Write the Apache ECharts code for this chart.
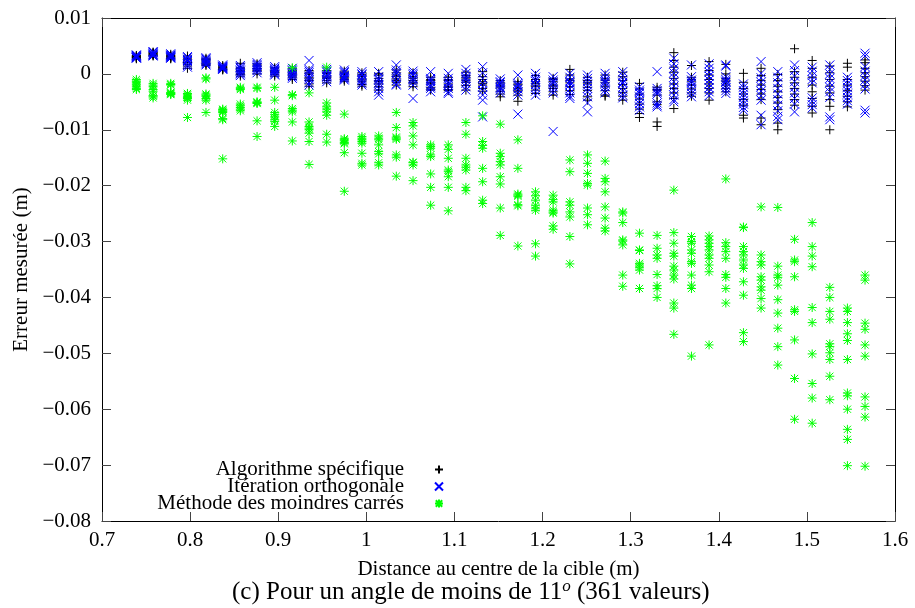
<!DOCTYPE html>
<html>
<head>
<meta charset="utf-8">
<script src="https://cdn.jsdelivr.net/npm/echarts@6/dist/echarts.min.js"></script>
<style>
  html, body { margin: 0; padding: 0; background: #fff; }
  #chart { width: 915px; height: 608px; }
</style>
</head>
<body>
<div id="chart"></div>
<script>
// Distance au centre de la cible (m) : one value per group of measurements
const distances = [0.739, 0.758, 0.778, 0.797, 0.818, 0.837, 0.857, 0.876, 0.896, 0.916,
  0.935, 0.955, 0.975, 0.995, 1.014, 1.034, 1.053, 1.073, 1.093, 1.113,
  1.132, 1.152, 1.172, 1.192, 1.212, 1.231, 1.251, 1.271, 1.291, 1.310,
  1.330, 1.349, 1.369, 1.389, 1.408, 1.428, 1.448, 1.467, 1.486, 1.506,
  1.526, 1.546, 1.566];

// Erreur mesurée, in millimetres, one list per distance
const errAlgoSpecifique = [
  [3.2, 3.0, 2.8, 3.3, 2.9, 3.1, 3.0, 2.7],
  [3.9, 3.5, 3.2, 3.7, 3.4, 3.3, 3.8, 3.6],
  [3.5, 3.1, 2.8, 3.3, 2.9, 2.7, 3.2, 3.0],
  [3.2, 2.7, 2.1, 1.7, 1.0, 2.5, 2.0, 1.4],
  [2.8, 2.5, 2.1, 1.7, 1.5, 2.3, 1.9, 2.6],
  [1.5, 1.2, 0.9, 0.7, 1.3, 1.0, 0.8, 1.1],
  [1.9, 1.0, 0.4, -0.1, -0.4, 1.1, 0.6, 0.1],
  [1.8, 1.4, 0.9, 0.5, 0.0, 1.6, 1.0, 0.6],
  [1.1, 0.6, 0.2, -0.4, 0.9, 0.4, -0.1, 0.3],
  [0.9, 0.4, -0.2, -0.7, -1.0, 0.6, 0.1, -0.4],
  [0.6, 0.0, -0.6, -1.2, -1.8, -2.2, 0.3, -0.9],
  [0.6, 0.1, -0.4, -0.8, -1.2, -1.6, 0.3, -0.6],
  [0.5, 0.0, -0.5, -0.9, -1.3, 0.2, -0.7, -1.0],
  [0.2, -0.4, -0.9, -1.4, -1.9, -2.2, -0.1, -1.1],
  [0.1, -0.8, -1.4, -2.3, -2.9, -1.8, -0.2, -1.2],
  [0.7, -0.2, -0.9, -1.5, -2.0, 0.2, -0.5, -1.2],
  [0.2, -0.5, -1.2, -1.8, -2.3, -0.8, -1.5, 0.0],
  [-0.6, -1.2, -1.8, -2.4, -2.9, -1.5, -2.7, -1.0],
  [-0.6, -1.2, -1.8, -2.4, -3.0, -1.0, -2.2, -2.8],
  [0.3, -0.3, -0.9, -1.5, -2.1, -2.9, -1.2, -0.6],
  [0.4, -0.5, -1.4, -2.0, -2.6, -3.1, -1.0, -1.7],
  [-1.2, -1.8, -2.5, -3.1, -4.1, -1.5, -2.2, -3.6],
  [-1.4, -2.0, -2.6, -3.2, -3.8, -4.9, -1.8, -2.9],
  [-0.3, -1.0, -1.7, -2.3, -2.9, -3.5, -1.4, -2.0],
  [-0.8, -1.4, -2.0, -2.6, -3.2, -3.8, -1.0, -2.2],
  [0.8, -0.2, -0.9, -1.6, -2.3, -3.0, -3.7, -1.2],
  [-0.6, -1.2, -1.8, -2.4, -3.0, -4.1, -4.7, -1.5],
  [-0.2, -0.9, -1.6, -2.3, -3.0, -3.8, -4.0, -1.2],
  [0.3, -0.5, -1.2, -1.9, -2.6, -3.3, -4.0, -4.7],
  [-1.7, -2.7, -3.6, -4.5, -5.4, -6.3, -7.1, -7.8],
  [-2.4, -3.0, -3.8, -5.0, -5.5, -8.6, -9.4, -2.8],
  [3.8, 2.4, 1.2, 0.3, -0.8, -1.8, -2.6, -3.4, -4.4, -6.2],
  [1.5, -0.6, -1.3, -2.0, -2.7, -3.4, -4.0, -1.0],
  [2.2, 0.6, -0.2, -1.0, -1.8, -2.6, -3.4, -4.7],
  [1.7, 0.0, -0.8, -1.4, -2.0, -2.6, -3.2, -1.1],
  [0.1, -1.5, -2.6, -3.6, -4.6, -5.6, -7.4, -7.9],
  [1.0, -0.3, -1.2, -2.0, -2.8, -3.6, -4.6, -7.9, -9.1],
  [-0.1, -1.2, -2.2, -3.2, -4.2, -5.2, -6.4, -8.8, -10.0],
  [4.5, 0.4, -0.6, -1.6, -2.6, -3.6, -4.6, -5.6],
  [2.4, 1.0, -0.6, -2.0, -3.2, -4.4, -5.8, -7.0],
  [1.4, 0.2, -1.0, -2.2, -3.4, -4.6, -5.8, -10.0],
  [1.9, 1.2, -1.0, -2.0, -3.0, -4.0, -5.0, -5.9],
  [2.5, 2.0, 1.0, 0.2, -0.5, -1.3, -2.1, -2.9]
];

const errIterOrtho = [
  [3.4, 3.1, 2.9, 3.2, 2.8, 3.3, 3.0, 2.9],
  [4.0, 3.6, 3.3, 3.8, 3.5, 3.2, 3.9, 3.4],
  [3.6, 3.2, 2.9, 3.4, 3.0, 2.8, 3.3, 3.1],
  [3.1, 2.6, 2.2, 1.8, 1.2, 2.9, 2.4, 1.5],
  [2.9, 2.6, 2.2, 1.8, 1.6, 2.4, 2.0, 2.7],
  [1.6, 1.3, 1.0, 0.8, 1.4, 1.1, 0.9, 1.2],
  [1.5, 1.0, 0.5, 0.0, -0.3, 1.2, 0.7, 0.2],
  [2.0, 1.5, 1.1, 0.6, 0.2, 1.7, 1.2, 0.8],
  [1.3, 0.8, 0.3, -0.2, 1.0, 0.5, 0.0, 0.6],
  [1.0, 0.5, 0.0, -0.5, -0.8, 0.7, 0.2, -0.3],
  [2.4, 0.8, 0.2, -0.4, -1.0, -1.6, -2.0, 0.5, -0.7],
  [0.8, 0.3, -0.2, -0.6, -1.0, -1.4, 0.5, -0.4],
  [0.7, 0.2, -0.3, -0.7, -1.1, 0.4, -0.5, -0.9],
  [0.4, -0.2, -0.7, -1.2, -1.7, -2.0, 0.0, -1.0],
  [0.4, -0.5, -1.1, -1.6, -2.0, -2.6, -3.2, -3.8, -0.9],
  [1.6, 0.7, 0.0, -0.6, -1.2, -1.8, -2.0, 0.3],
  [0.5, -0.2, -0.8, -1.4, -2.0, -4.4, 0.1, -1.0],
  [0.4, -0.8, -1.4, -2.0, -2.6, -3.2, -1.1, -2.3],
  [0.1, -0.8, -1.4, -2.0, -2.6, -3.2, -3.5, -1.7],
  [0.8, 0.1, -0.5, -1.1, -1.7, -2.3, -2.9, -0.8],
  [1.3, 0.2, -0.8, -1.7, -2.3, -3.0, -3.8, -4.7, -7.7],
  [-0.9, -1.4, -1.9, -2.4, -2.9, -3.4, -1.6, -2.6],
  [-0.2, -1.7, -2.2, -2.7, -3.2, -3.8, -7.2, -2.0],
  [0.1, -0.6, -1.3, -1.9, -2.5, -3.1, -3.8, -1.0],
  [-0.5, -1.1, -1.7, -2.3, -2.9, -3.4, -10.3, -1.4],
  [0.1, -0.6, -1.3, -2.0, -2.7, -3.4, -4.0, -4.4, -1.6],
  [-0.2, -0.8, -1.4, -2.0, -2.6, -3.2, -4.1, -5.2, -6.8],
  [0.1, -0.5, -1.1, -1.7, -2.3, -2.9, -3.4, -1.4],
  [0.4, -0.3, -1.0, -1.7, -2.4, -3.1, -3.8, -4.3, -1.5],
  [-2.3, -2.9, -3.5, -4.1, -4.7, -5.3, -5.9, -6.5, -3.2],
  [0.4, -2.6, -3.0, -3.3, -5.2, -5.6, -5.9, -3.6],
  [2.8, 1.8, 1.0, 0.2, -0.6, -1.4, -2.2, -3.0, -3.8, -4.6, -5.0],
  [1.6, -0.5, -1.1, -1.7, -2.3, -2.9, -3.5, -4.1, -1.4],
  [1.8, 1.0, 0.3, -0.4, -1.1, -1.8, -2.5, -3.2, -3.9],
  [1.6, 1.4, -0.5, -1.0, -1.5, -2.0, -2.5, -3.0, -3.5, -1.3],
  [-1.8, -2.4, -3.0, -3.6, -4.2, -4.8, -5.4, -6.0, -6.5],
  [2.2, 0.1, -0.7, -1.5, -2.3, -3.1, -3.9, -4.7, -7.4, -9.1],
  [0.4, -0.6, -1.6, -2.6, -3.6, -4.6, -5.6, -6.6, -7.6, -8.2],
  [1.6, 0.6, -0.4, -1.4, -2.4, -3.4, -4.4, -5.4, -6.8],
  [1.2, 0.5, -0.3, -1.0, -4.3, -4.9, -5.5, -6.1, -1.6],
  [1.6, 0.8, 0.0, -0.8, -1.6, -2.4, -3.2, -4.2, -7.7, -8.2],
  [-0.6, -1.2, -1.8, -2.4, -3.0, -3.6, -4.2, -4.8, -5.4],
  [3.7, 3.2, 1.3, 0.5, -0.3, -1.1, -1.9, -2.7, -6.5, -7.0]
];

const errMoindresCarres = [
  [-1.0, -1.3, -2.0, -2.3, -2.6, -1.5, -2.8, -1.8],
  [-1.7, -2.0, -2.8, -3.1, -4.3, -3.9, -2.3, -4.0],
  [-1.7, -2.0, -3.5, -3.7, -3.3, -1.9, -3.6, -3.4],
  [-3.5, -3.8, -4.1, -4.4, -4.7, -7.8, -3.6, -4.2],
  [-0.7, -3.6, -4.0, -4.7, -6.9, -3.8, -4.4, -0.9],
  [-6.3, -6.6, -6.9, -8.2, -15.2, -6.4, -6.7, -8.0],
  [-2.4, -2.8, -5.4, -6.0, -6.6, -2.6, -5.7, -6.3],
  [-2.4, -5.0, -5.3, -8.4, -11.2, -2.6, -5.1, -5.2],
  [-2.4, -4.7, -6.9, -7.7, -8.2, -9.4, -7.3, -8.5],
  [1.1, -3.9, -6.2, -6.8, -8.6, -12.0, -3.7, -6.5],
  [-3.4, -8.6, -9.4, -10.0, -10.6, -12.1, -16.2, -9.7],
  [1.2, -5.2, -5.9, -6.8, -7.4, -10.8, -12.2, -6.3],
  [-7.2, -11.8, -12.5, -14.1, -21.0, -12.0, -12.3, -11.6],
  [-11.2, -11.8, -12.4, -14.2, -16.3, -11.5, -12.1, -16.0],
  [-11.1, -11.8, -12.7, -13.9, -14.3, -15.9, -16.3, -11.5],
  [-6.9, -9.6, -11.3, -11.7, -14.5, -14.9, -18.3, -11.5],
  [-8.7, -9.3, -11.1, -12.7, -15.9, -16.3, -19.1, -15.8],
  [-12.7, -13.3, -14.8, -17.9, -20.3, -23.5, -13.0, -14.5],
  [-12.7, -13.5, -15.1, -17.2, -18.4, -20.3, -24.5, -17.5],
  [-8.7, -10.8, -15.1, -16.3, -17.2, -20.3, -20.9, -16.7],
  [-7.5, -12.1, -13.3, -16.9, -19.3, -22.6, -23.2, -12.8],
  [-9.0, -14.2, -14.8, -15.7, -16.3, -18.4, -19.7, -24.0, -28.9],
  [-11.8, -16.9, -21.7, -23.6, -30.8, -21.5, -23.4, -21.9],
  [-21.1, -21.8, -22.6, -23.5, -24.0, -24.4, -30.4, -32.6],
  [-21.7, -22.9, -24.4, -24.9, -27.2, -27.8, -24.7, -22.5],
  [-15.4, -17.5, -22.9, -23.5, -24.7, -25.6, -29.1, -34.0],
  [-14.5, -16.0, -17.8, -19.6, -19.9, -24.0, -25.2, -27.0],
  [-15.6, -18.7, -19.3, -21.1, -23.8, -25.8, -27.6, -28.1],
  [-24.7, -26.6, -29.7, -30.6, -36.0, -38.0, -24.9, -29.9],
  [-28.5, -31.6, -34.2, -34.6, -35.1, -38.4, -31.5, -33.9],
  [-28.9, -31.2, -32.4, -33.0, -35.9, -37.9, -38.4, -40.0],
  [-20.8, -28.4, -30.3, -32.1, -32.6, -34.4, -35.1, -36.0, -36.7, -41.0, -41.9, -46.6],
  [-29.1, -30.0, -30.3, -31.5, -32.1, -33.6, -33.9, -36.0, -37.8, -38.4, -50.5],
  [-29.0, -29.7, -30.3, -30.9, -31.5, -32.4, -33.0, -34.2, -35.4, -48.5],
  [-18.8, -30.2, -30.9, -31.8, -33.0, -35.9, -36.4, -38.4, -41.0],
  [-27.4, -27.5, -30.9, -31.8, -32.4, -33.3, -34.2, -34.8, -37.2, -39.6, -46.3, -47.9],
  [-23.8, -32.4, -33.6, -34.2, -36.3, -36.9, -38.1, -38.7, -40.2, -41.9],
  [-23.9, -34.4, -36.0, -36.4, -37.8, -40.4, -42.8, -45.5, -48.8, -52.1],
  [-29.6, -33.3, -33.6, -36.3, -42.2, -42.5, -47.6, -54.5, -61.8],
  [-26.6, -30.9, -32.6, -34.5, -41.8, -44.5, -50.1, -55.4, -58.0, -62.5],
  [-38.2, -40.0, -42.5, -43.9, -48.3, -48.8, -49.9, -51.1, -54.1, -58.3],
  [-41.9, -42.5, -44.5, -46.5, -47.7, -51.1, -57.1, -57.6, -60.0, -63.6, -65.4, -70.1],
  [-36.0, -36.9, -44.6, -45.7, -48.5, -50.5, -57.8, -59.5, -61.4, -70.2]
];

const seriesNames = ['Algorithme spécifique', 'Itération orthogonale', 'Méthode des moindres carrés'];
const xTickLabels = ['0.7', '0.8', '0.9', '1', '1.1', '1.2', '1.3', '1.4', '1.5', '1.6'];
const yTickLabels = ['\u22120.08', '\u22120.07', '\u22120.06', '\u22120.05', '\u22120.04',
  '\u22120.03', '\u22120.02', '\u22120.01', '0', '0.01'];

// gnuplot-like point types drawn as stroked paths
const PLUS = 'path://M0,5L10,5M5,0L5,10';
const CROSS = 'path://M0,0L10,10M10,0L0,10';
const STAR = 'path://M0,5L10,5M5,0L5,10M1,1L9,9M9,1L1,9';

function toPoints(groups) {
  const pts = [];
  groups.forEach((vals, i) => vals.forEach(v => pts.push([distances[i], v / 1000])));
  return pts;
}

const FONT = '"Liberation Serif", "Times New Roman", serif';
const chart = echarts.init(document.getElementById('chart'), null, { renderer: 'canvas' });

const axisLine = { show: true, onZero: false, lineStyle: { color: '#000', width: 1 } };
const axisTick = { show: true, inside: true, length: 9, lineStyle: { color: '#444', width: 1 } };

function scatter(name, data, symbol, size, color, width) {
  return {
    name, type: 'scatter', data, symbol, symbolSize: size, symbolKeepAspect: true,
    itemStyle: { color: 'transparent', borderColor: color, borderWidth: width, opacity: 1 },
    emphasis: { disabled: true },
    silent: true
  };
}

chart.setOption({
  animation: false,
  backgroundColor: '#fff',
  textStyle: { fontFamily: FONT },
  title: {
    text: '{a|(c) Pour un angle de moins de 11}{s|o}{a| (361 valeurs)}',
    left: 232, top: 578, padding: 0,
    textStyle: {
      fontWeight: 'normal',
      rich: {
        a: { fontFamily: FONT, fontSize: 25, lineHeight: 28, fontWeight: 'normal', color: '#000' },
        s: { fontFamily: FONT, fontSize: 17, lineHeight: 14, fontStyle: 'italic', fontWeight: 'normal',
             color: '#000', verticalAlign: 'top' }
      }
    }
  },
  grid: { left: 102, top: 18, width: 793, height: 503, containLabel: false },
  legend: {
    orient: 'vertical', right: 471, top: 459, padding: 0, itemGap: -4,
    align: 'right', itemWidth: 8, itemHeight: 8,
    selectedMode: false,
    data: seriesNames,
    textStyle: { fontFamily: FONT, fontSize: 21, color: '#000', padding: [0, 26, 0, 0] }
  },
  xAxis: [{
    type: 'value', min: 0.7, max: 1.6, interval: 0.1, position: 'bottom',
    name: 'Distance au centre de la cible (m)', nameLocation: 'middle', nameGap: 38,
    nameMoveOverlap: false,
    nameTextStyle: { fontFamily: FONT, fontSize: 21, color: '#000', verticalAlign: 'top' },
    axisLine, axisTick, splitLine: { show: false },
    axisLabel: {
      margin: 9, fontFamily: FONT, fontSize: 21, color: '#000',
      formatter: v => xTickLabels[Math.round((v - 0.7) / 0.1)]
    }
  }, {
    type: 'value', min: 0.7, max: 1.6, interval: 0.1, position: 'top',
    axisLine, axisTick, splitLine: { show: false }, axisLabel: { show: false }
  }],
  yAxis: [{
    type: 'value', min: -0.08, max: 0.01, interval: 0.01, position: 'left',
    name: 'Erreur mesurée (m)', nameLocation: 'middle', nameGap: 70,
    nameMoveOverlap: false,
    nameTextStyle: { fontFamily: FONT, fontSize: 21, color: '#000' },
    axisLine, axisTick, splitLine: { show: false },
    axisLabel: {
      margin: 11, fontFamily: FONT, fontSize: 21, color: '#000',
      formatter: v => yTickLabels[Math.round((v + 0.08) / 0.01)]
    }
  }, {
    type: 'value', min: -0.08, max: 0.01, interval: 0.01, position: 'right',
    axisLine, axisTick, splitLine: { show: false }, axisLabel: { show: false }
  }],
  series: [
    scatter(seriesNames[0], toPoints(errAlgoSpecifique), PLUS, 9, '#000000', 1),
    scatter(seriesNames[1], toPoints(errIterOrtho), CROSS, 9, '#0000ff', 1),
    scatter(seriesNames[2], toPoints(errMoindresCarres), STAR, 9, '#00ff00', 1)
  ]
});
</script>
</body>
</html>
